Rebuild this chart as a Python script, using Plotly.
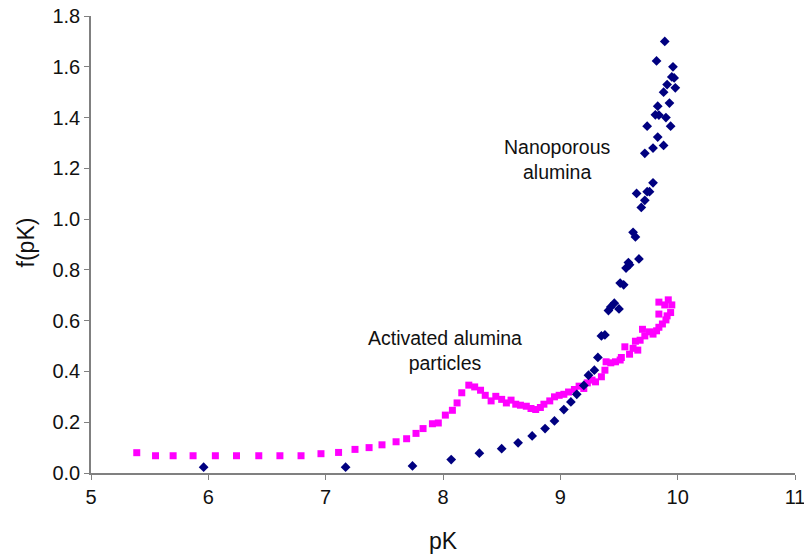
import plotly.graph_objects as go

# Activated alumina particles (magenta squares)
act_pk = [5.39, 5.55, 5.70, 5.87, 6.06, 6.24, 6.43, 6.61, 6.79, 6.96, 7.11, 7.25, 7.37, 7.48,
          7.60, 7.69, 7.77, 7.83, 7.91, 7.96, 8.02, 8.08, 8.12, 8.16, 8.22, 8.27, 8.32, 8.36,
          8.41, 8.45, 8.50, 8.54, 8.58, 8.62, 8.66, 8.71, 8.75, 8.79, 8.83, 8.86, 8.91, 8.95,
          8.99, 9.03, 9.07, 9.12, 9.16, 9.20, 9.23, 9.27, 9.30, 9.35, 9.38, 9.39, 9.43, 9.47,
          9.51, 9.52, 9.55, 9.59, 9.62, 9.64, 9.66, 9.68, 9.70, 9.72, 9.76, 9.79, 9.82, 9.84,
          9.87, 9.90, 9.91, 9.84, 9.94, 9.95, 9.92, 9.89, 9.84]
act_f = [0.080, 0.068, 0.068, 0.068, 0.068, 0.068, 0.068, 0.068, 0.068, 0.076, 0.081, 0.093,
         0.100, 0.111, 0.123, 0.135, 0.156, 0.175, 0.194, 0.197, 0.228, 0.247, 0.276, 0.316,
         0.346, 0.339, 0.326, 0.306, 0.284, 0.302, 0.290, 0.276, 0.287, 0.271, 0.267, 0.263,
         0.254, 0.250, 0.258, 0.271, 0.284, 0.300, 0.306, 0.310, 0.319, 0.329, 0.342, 0.333,
         0.355, 0.366, 0.359, 0.379, 0.405, 0.438, 0.434, 0.438, 0.445, 0.455, 0.497, 0.468,
         0.491, 0.519, 0.484, 0.523, 0.566, 0.540, 0.556, 0.547, 0.560, 0.574, 0.587, 0.603,
         0.619, 0.626, 0.632, 0.662, 0.682, 0.662, 0.673]

# Nanoporous alumina (navy diamonds)
nano_pk = [5.96, 7.17, 7.74, 8.07, 8.31, 8.50, 8.64, 8.76, 8.87, 8.95, 9.03, 9.09, 9.14, 9.20,
           9.24, 9.29, 9.32, 9.35, 9.38, 9.41, 9.43, 9.46, 9.50, 9.51, 9.54, 9.56, 9.59, 9.58,
           9.67, 9.64, 9.62, 9.69, 9.72, 9.65, 9.74, 9.76, 9.79, 9.72, 9.79, 9.83, 9.88, 9.74,
           9.94, 9.81, 9.84, 9.90, 9.83, 9.93, 9.88, 9.91, 9.98, 9.95, 9.97, 9.96, 9.82, 9.89]
nano_f = [0.023, 0.023, 0.028, 0.053, 0.078, 0.096, 0.119, 0.146, 0.175, 0.205, 0.250, 0.280,
          0.310, 0.345, 0.385, 0.405, 0.455, 0.540, 0.544, 0.640, 0.654, 0.669, 0.646, 0.748,
          0.741, 0.807, 0.820, 0.829, 0.843, 0.930, 0.948, 1.046, 1.074, 1.101, 1.108, 1.108,
          1.143, 1.259, 1.280, 1.323, 1.290, 1.366, 1.366, 1.411, 1.410, 1.400, 1.445, 1.457,
          1.500, 1.530, 1.517, 1.560, 1.556, 1.600, 1.623, 1.700]

x_ticks = [5, 6, 7, 8, 9, 10, 11]
y_ticks = [0.0, 0.2, 0.4, 0.6, 0.8, 1.0, 1.2, 1.4, 1.6, 1.8]

fig = go.Figure()
fig.add_trace(go.Scatter(x=act_pk, y=act_f, mode="markers", name="Activated alumina particles",
                         marker=dict(symbol="square", size=7, color="#FF00FF")))
fig.add_trace(go.Scatter(x=nano_pk, y=nano_f, mode="markers", name="Nanoporous alumina",
                         marker=dict(symbol="diamond", size=7.5, color="#000080")))

font = "Liberation Sans, Arial, sans-serif"
fig.add_annotation(x=8.97, y=1.235, text="Nanoporous<br>alumina", showarrow=False,
                   font=dict(family=font, size=19.5, color="#111"))
fig.add_annotation(x=8.02, y=0.482, text="Activated alumina<br>particles", showarrow=False,
                   font=dict(family=font, size=19.5, color="#111"))
# y-axis title placed as a rotated annotation in the left margin
fig.add_annotation(xref="paper", yref="paper", x=-0.092, y=0.505, text="f(pK)",
                   textangle=-90, showarrow=False, xanchor="center", yanchor="middle",
                   font=dict(family=font, size=23, color="#111"))

fig.update_layout(
    width=804, height=558,
    margin=dict(l=91, r=9, t=16, b=85, autoexpand=False),
    paper_bgcolor="white", plot_bgcolor="white",
    showlegend=False,
    font=dict(family=font, size=20, color="#111"),
)
fig.update_xaxes(range=[5, 11], tickvals=x_ticks, showgrid=False, zeroline=False,
                 showline=True, linecolor="#808080", linewidth=1.5,
                 ticks="outside", ticklen=5, tickcolor="#808080",
                 ticklabeloverflow="allow", automargin=False,
                 tickfont=dict(size=20),
                 title=dict(text="pK", font=dict(size=23), standoff=26))
fig.update_yaxes(range=[0, 1.8], tickvals=y_ticks, tickformat=".1f", showgrid=False,
                 zeroline=False, showline=True, linecolor="#808080", linewidth=1.5,
                 ticks="outside", ticklen=5, tickcolor="#808080", automargin=False,
                 tickfont=dict(size=20))

fig.write_html("out.html")
